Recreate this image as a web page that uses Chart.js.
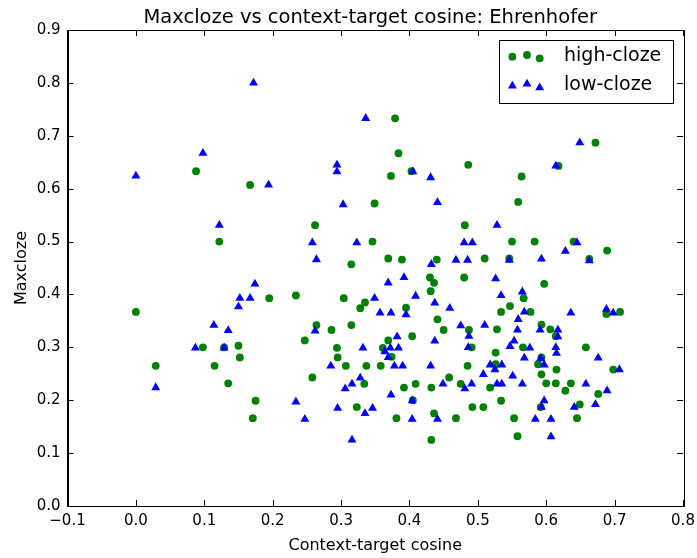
<!DOCTYPE html>
<html>
<head>
<meta charset="utf-8">
<script src="https://cdn.jsdelivr.net/npm/chart.js@4.4.1/dist/chart.umd.min.js"></script>
<style>
html, body { margin: 0; padding: 0; background: #fff; }
</style>
</head>
<body>
<canvas id="maxcloze-chart" width="697" height="558"></canvas>
<script>
// values
let chartTitle = 'Maxcloze vs context-target cosine: Ehrenhofer';

let highX = [0.0, 0.029, 0.088, 0.098, 0.122, 0.115, 0.135, 0.129, 0.150, 0.152, 0.167, 0.171, 0.175, 0.195,
    0.379, 0.384, 0.373, 0.403, 0.486, 0.349, 0.672, 0.618, 0.564, 0.559, 0.262, 0.481, 0.346, 0.315, 0.369,
    0.389, 0.440, 0.430, 0.436, 0.480, 0.431, 0.234, 0.304, 0.335, 0.328, 0.395, 0.441, 0.264, 0.286, 0.315,
    0.450, 0.487, 0.247, 0.369, 0.404, 0.294, 0.361, 0.374, 0.295, 0.491, 0.307, 0.337, 0.358, 0.485, 0.258,
    0.458, 0.550, 0.583, 0.640, 0.689, 0.510, 0.546, 0.663, 0.597, 0.567, 0.547, 0.534, 0.577, 0.688, 0.708,
    0.528, 0.593, 0.606, 0.614, 0.566, 0.658, 0.526, 0.593, 0.526, 0.588, 0.615, 0.698, 0.593, 0.334, 0.392,
    0.409, 0.432, 0.475, 0.323, 0.405, 0.381, 0.436, 0.468, 0.432, 0.492, 0.518, 0.600, 0.614, 0.628, 0.636,
    0.676, 0.508, 0.534, 0.592, 0.649, 0.553, 0.645, 0.558];
let highY = [0.367, 0.265, 0.633, 0.300, 0.500, 0.265, 0.232, 0.300, 0.303, 0.281, 0.607, 0.166, 0.199, 0.393,
    0.733, 0.667, 0.624, 0.633, 0.645, 0.572, 0.687, 0.643, 0.623, 0.575, 0.531, 0.531, 0.500, 0.457, 0.468,
    0.466, 0.466, 0.432, 0.422, 0.432, 0.406, 0.398, 0.393, 0.385, 0.374, 0.375, 0.353, 0.342, 0.333, 0.342,
    0.333, 0.333, 0.313, 0.313, 0.321, 0.299, 0.299, 0.282, 0.281, 0.300, 0.265, 0.265, 0.265, 0.265, 0.243,
    0.243, 0.500, 0.500, 0.500, 0.483, 0.468, 0.468, 0.467, 0.420, 0.393, 0.378, 0.367, 0.367, 0.363, 0.367,
    0.334, 0.343, 0.334, 0.321, 0.300, 0.300, 0.290, 0.281, 0.268, 0.268, 0.258, 0.258, 0.249, 0.231, 0.224,
    0.231, 0.224, 0.231, 0.187, 0.200, 0.166, 0.175, 0.166, 0.125, 0.187, 0.224, 0.232, 0.232, 0.218, 0.232,
    0.212, 0.187, 0.199, 0.187, 0.192, 0.166, 0.166, 0.132];

let lowX = [0.0, 0.029, 0.098, 0.172, 0.194, 0.122, 0.174, 0.152, 0.167, 0.150, 0.114, 0.135, 0.087, 0.129,
    0.336, 0.294, 0.294, 0.405, 0.431, 0.303, 0.441, 0.649, 0.614, 0.258, 0.323, 0.480, 0.492, 0.264, 0.432,
    0.468, 0.485, 0.369, 0.392, 0.409, 0.349, 0.437, 0.459, 0.357, 0.373, 0.395, 0.262, 0.475, 0.382, 0.437,
    0.487, 0.332, 0.364, 0.372, 0.384, 0.369, 0.486, 0.285, 0.378, 0.390, 0.431, 0.328, 0.528, 0.645, 0.628,
    0.546, 0.593, 0.663, 0.526, 0.534, 0.565, 0.568, 0.636, 0.688, 0.698, 0.559, 0.510, 0.558, 0.591, 0.617,
    0.617, 0.553, 0.547, 0.576, 0.614, 0.615, 0.568, 0.592, 0.676, 0.518, 0.525, 0.535, 0.597, 0.707, 0.508,
    0.551, 0.306, 0.316, 0.449, 0.481, 0.491, 0.234, 0.295, 0.346, 0.335, 0.373, 0.404, 0.247, 0.404, 0.441,
    0.316, 0.528, 0.535, 0.565, 0.658, 0.689, 0.597, 0.593, 0.641, 0.672, 0.584, 0.607, 0.607];
let lowY = [0.624, 0.224, 0.667, 0.800, 0.607, 0.531, 0.420, 0.393, 0.393, 0.377, 0.342, 0.332, 0.299, 0.299,
    0.733, 0.645, 0.632, 0.632, 0.621, 0.570, 0.574, 0.687, 0.643, 0.498, 0.498, 0.498, 0.498, 0.466, 0.457,
    0.465, 0.465, 0.422, 0.432, 0.397, 0.393, 0.384, 0.374, 0.365, 0.365, 0.362, 0.331, 0.341, 0.320, 0.312,
    0.321, 0.299, 0.292, 0.299, 0.299, 0.281, 0.300, 0.265, 0.265, 0.265, 0.265, 0.242, 0.531, 0.498, 0.482,
    0.465, 0.467, 0.464, 0.430, 0.398, 0.405, 0.367, 0.365, 0.372, 0.365, 0.353, 0.342, 0.333, 0.333, 0.333,
    0.320, 0.312, 0.302, 0.299, 0.300, 0.289, 0.280, 0.279, 0.280, 0.267, 0.258, 0.267, 0.267, 0.258, 0.249,
    0.246, 0.222, 0.231, 0.231, 0.222, 0.231, 0.197, 0.185, 0.185, 0.175, 0.210, 0.199, 0.164, 0.164, 0.164,
    0.125, 0.231, 0.231, 0.231, 0.231, 0.218, 0.199, 0.187, 0.187, 0.192, 0.164, 0.164, 0.131];

let xTicks = [-0.1, 0.0, 0.1, 0.2, 0.3, 0.4, 0.5, 0.6, 0.7, 0.8];
let yTicks = [0.0, 0.1, 0.2, 0.3, 0.4, 0.5, 0.6, 0.7, 0.8, 0.9];

let toPoints = function (xs, ys) {
    return xs.map((x, i) => ({x: x, y: ys[i]}));
};

let fmtTick = function (v) {
    return v.toFixed(1).replace('-', '\u2212');
};

// matplotlib style frame with inward ticks on all four sides, title over the axes
let frameTicks = {
    id: 'frameTicks',
    afterDatasetsDraw(chart) {
        let ctx = chart.ctx;
        let a = chart.chartArea;
        let x = chart.scales.x, y = chart.scales.y;
        ctx.save();
        ctx.strokeStyle = '#000';
        ctx.lineWidth = 1;
        ctx.beginPath();
        for (let v of xTicks) {
            let px = Math.round(x.getPixelForValue(v)) + 0.5;
            ctx.moveTo(px, a.top); ctx.lineTo(px, a.top + 6);
            ctx.moveTo(px, a.bottom); ctx.lineTo(px, a.bottom - 6);
        }
        for (let v of yTicks) {
            let py = Math.round(y.getPixelForValue(v)) + 0.5;
            ctx.moveTo(a.left, py); ctx.lineTo(a.left + 6, py);
            ctx.moveTo(a.right, py); ctx.lineTo(a.right - 6, py);
        }
        ctx.stroke();
        ctx.strokeRect(Math.round(a.left) + 0.5, Math.round(a.top) + 0.5,
            Math.round(a.width), Math.round(a.height));

        ctx.fillStyle = '#000';
        ctx.font = '19.5px "DejaVu Sans"';
        ctx.textAlign = 'center';
        ctx.textBaseline = 'alphabetic';
        ctx.fillText(chartTitle, (a.left + a.right) / 2 - 5, a.top - 7.5);
        ctx.restore();
    }
};

let drawMarker = function (ctx, style, cx, cy, r) {
    ctx.beginPath();
    if (style === 'triangle') {
        ctx.moveTo(cx, cy - r);
        ctx.lineTo(cx + r * 0.866, cy + r * 0.5);
        ctx.lineTo(cx - r * 0.866, cy + r * 0.5);
        ctx.closePath();
    } else {
        ctx.arc(cx, cy, r, 0, Math.PI * 2);
    }
    ctx.fill();
};

// legend box inside the axes, three markers per entry
let boxLegend = {
    id: 'boxLegend',
    afterDraw(chart) {
        let ctx = chart.ctx;
        let a = chart.chartArea;
        let left = a.right - 184, top = a.top + 10;
        ctx.save();
        ctx.fillStyle = '#fff';
        ctx.fillRect(left, top, 174, 63);
        ctx.strokeStyle = '#000';
        ctx.lineWidth = 1;
        ctx.strokeRect(Math.round(left) + 0.5, Math.round(top) + 0.5, 174, 63);
        let dy = [[16.7, 15, 18.3], [46, 44, 47.7]];
        let mx = [13.4, 28, 40.7];
        chart.data.datasets.forEach((ds, i) => {
            ctx.fillStyle = ds.backgroundColor;
            for (let k = 0; k < 3; k++) {
                drawMarker(ctx, ds.pointStyle, left + mx[k], top + dy[i][k], ds.pointRadius);
            }
            ctx.fillStyle = '#000';
            ctx.font = '19px "DejaVu Sans"';
            ctx.textBaseline = 'middle';
            ctx.textAlign = 'left';
            ctx.fillText(ds.label, left + 65, top + 16.5 + i * 29);
        });
        ctx.restore();
    }
};

let ctx = document.getElementById('maxcloze-chart').getContext('2d');

let chart = new Chart(ctx, {
    type: 'scatter',
    data: {
        datasets: [{
            label: 'high-cloze',
            data: toPoints(highX, highY),
            pointStyle: 'circle',
            pointRadius: 3.9,
            backgroundColor: '#008000',
            borderWidth: 0,
            order: 2
        }, {
            label: 'low-cloze',
            data: toPoints(lowX, lowY),
            pointStyle: 'triangle',
            pointRadius: 5.2,
            backgroundColor: '#0000ff',
            borderWidth: 0,
            order: 1
        }]
    },
    options: {
        responsive: false,
        animation: false,
        layout: {padding: {top: 30, right: 14, bottom: 0, left: 0}},
        plugins: {
            legend: {display: false},
            tooltip: {enabled: false},
            title: {display: false}
        },
        scales: {
            x: {
                type: 'linear',
                min: -0.1,
                max: 0.8,
                afterBuildTicks: s => { s.ticks = xTicks.map(v => ({value: v})); },
                afterFit: s => { s.height = 52; s.paddingLeft = 0; s.paddingRight = 0; },
                grid: {display: false, drawTicks: false},
                border: {color: '#000', width: 1},
                ticks: {
                    color: '#000',
                    font: {family: 'DejaVu Sans', size: 15},
                    padding: 6,
                    maxRotation: 0,
                    autoSkip: false,
                    callback: v => fmtTick(v)
                },
                title: {
                    display: true,
                    text: 'Context-target cosine',
                    color: '#000',
                    font: {family: 'DejaVu Sans', size: 16},
                    padding: {top: 0, bottom: 3}
                }
            },
            y: {
                type: 'linear',
                min: 0,
                max: 0.9,
                afterBuildTicks: s => { s.ticks = yTicks.map(v => ({value: v})); },
                afterFit: s => { s.width = 67.5; s.paddingTop = 0; s.paddingBottom = 0; },
                grid: {display: false, drawTicks: false},
                border: {color: '#000', width: 1},
                ticks: {
                    color: '#000',
                    font: {family: 'DejaVu Sans', size: 15},
                    padding: 7,
                    autoSkip: false,
                    callback: v => fmtTick(v)
                },
                title: {
                    display: true,
                    text: 'Maxcloze',
                    color: '#000',
                    font: {family: 'DejaVu Sans', size: 16},
                    padding: {top: 12, bottom: 0}
                }
            }
        }
    },
    plugins: [frameTicks, boxLegend]
});
</script>
</body>
</html>
